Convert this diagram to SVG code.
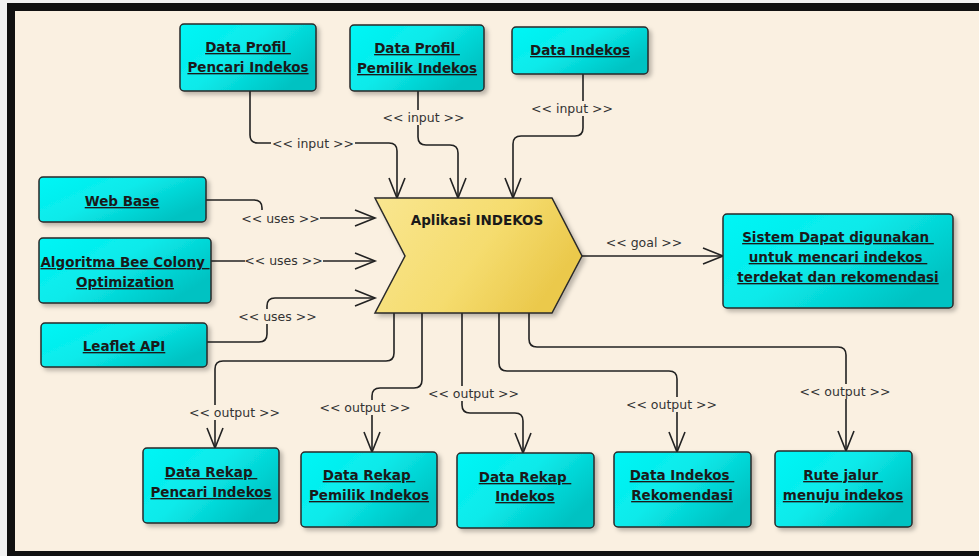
<svg xmlns="http://www.w3.org/2000/svg" width="979" height="556" viewBox="0 0 979 556">
<style>
.node rect.box{fill:url(#cyan);stroke:#2a2a2a;stroke-width:1.5;filter:url(#sh)}
.nt{font-family:"DejaVu Sans",Verdana,sans-serif;font-weight:bold;font-size:13.5px;fill:#1a1a1a;text-anchor:middle;text-decoration:underline;white-space:pre}
.lbl{font-family:"DejaVu Sans",Verdana,sans-serif;font-size:12.5px;fill:#333;text-anchor:middle;white-space:pre}
.lb{fill:#FAF0E1}
.con path{fill:none;stroke:#222;stroke-width:1.6;marker-end:url(#arr)}
</style>
<defs>
<linearGradient id="cyan" x1="0" y1="0" x2="1" y2="0.6">
<stop offset="0" stop-color="#00F6F6"/>
<stop offset="0.5" stop-color="#0AEAEA"/>
<stop offset="1" stop-color="#00C2C2"/>
</linearGradient>
<linearGradient id="yel" x1="0" y1="0" x2="1" y2="0.4">
<stop offset="0" stop-color="#F9E690"/>
<stop offset="0.6" stop-color="#F5DC6E"/>
<stop offset="1" stop-color="#EBC94C"/>
</linearGradient>
<filter id="sh" x="-10%" y="-10%" width="130%" height="130%">
<feDropShadow dx="3" dy="3" stdDeviation="2" flood-color="#000" flood-opacity="0.25"/>
</filter>
<marker id="arr" markerUnits="userSpaceOnUse" viewBox="-22 -10 24 20" refX="0" refY="0" markerWidth="24" markerHeight="20" orient="auto" overflow="visible">
<path d="M-20,-8 L0,0 L-20,8" fill="none" stroke="#222" stroke-width="1.6"/>
</marker>
</defs>
<rect x="0" y="0" width="979" height="556" fill="#F2F2F2"/>
<rect x="7" y="3" width="980" height="560" fill="#111"/>
<rect x="15" y="11" width="970" height="540" fill="#FAF0E1"/>

<g class="con">
<path d="M250,91 V135 Q250,143 258,143 H389 Q397,143 397,151 V198"/>
<path d="M418,91 V137 Q418,145 426,145 H450 Q458,145 458,153 V198"/>
<path d="M583,74 V128 Q583,136 575,136 H521 Q513,136 513,144 V198"/>
<path d="M206,200 H254 Q262,200 262,208 V218 H375"/>
<path d="M211,261 H375"/>
<path d="M207,342 H259 Q267,342 267,334 V306 Q267,298 275,298 H375"/>
<path d="M582,256 H723"/>
<path d="M394,313 V353 Q394,361 386,361 H223 Q215,361 215,369 V448"/>
<path d="M422,313 V380 Q422,388 414,388 H380 Q372,388 372,396 V452"/>
<path d="M462,313 V405 Q462,413 470,413 H515 Q523,413 523,421 V453"/>
<path d="M499,313 V363 Q499,371 507,371 H669 Q677,371 677,379 V452"/>
<path d="M529,313 V339 Q529,347 537,347 H838 Q846,347 846,355 V451"/>
</g>

<g id="labels">
<rect class="lb" x="271" y="136" width="84" height="15"/><text class="lbl" x="313" y="147.5">&lt;&lt; input &gt;&gt;</text>
<rect class="lb" x="381" y="110" width="85" height="15"/><text class="lbl" x="423.5" y="121.5">&lt;&lt; input &gt;&gt;</text>
<rect class="lb" x="530" y="101" width="84" height="15"/><text class="lbl" x="572" y="112.5">&lt;&lt; input &gt;&gt;</text>
<rect class="lb" x="242" y="210" width="78" height="16"/><text class="lbl" x="280.5" y="222.5">&lt;&lt; uses &gt;&gt;</text>
<rect class="lb" x="245" y="253" width="78" height="15"/><text class="lbl" x="283.5" y="264.5">&lt;&lt; uses &gt;&gt;</text>
<rect class="lb" x="239" y="309" width="78" height="15"/><text class="lbl" x="277.5" y="320.5">&lt;&lt; uses &gt;&gt;</text>
<text class="lbl" x="644" y="246.5">&lt;&lt; goal &gt;&gt;</text>
<rect class="lb" x="188" y="405" width="94" height="15"/><text class="lbl" x="234.5" y="416.5">&lt;&lt; output &gt;&gt;</text>
<rect class="lb" x="318" y="400" width="94" height="15"/><text class="lbl" x="365" y="411.5">&lt;&lt; output &gt;&gt;</text>
<rect class="lb" x="427" y="386" width="94" height="15"/><text class="lbl" x="473.5" y="397.5">&lt;&lt; output &gt;&gt;</text>
<rect class="lb" x="625" y="397" width="94" height="15"/><text class="lbl" x="671.5" y="408.5">&lt;&lt; output &gt;&gt;</text>
<rect class="lb" x="798" y="384" width="94" height="15"/><text class="lbl" x="845" y="395.5">&lt;&lt; output &gt;&gt;</text>
</g>

<g id="aplikasi" class="node">
<polygon points="375,198 552,198 582,256 552,313 375,313 405,256" fill="url(#yel)" stroke="#2a2a2a" stroke-width="1.5" filter="url(#sh)"/>
<text x="477" y="225" style="font-family:'DejaVu Sans',Verdana,sans-serif;font-weight:bold;font-size:13.5px;fill:#1a1a1a;text-anchor:middle">Aplikasi INDEKOS</text>
</g>

<g id="profil-pencari" class="node">
<rect class="box" x="180" y="24" width="136" height="67" rx="4"/>
<text class="nt" x="248" y="52">Data Profil </text>
<text class="nt" x="248" y="72">Pencari Indekos</text>
</g>
<g id="profil-pemilik" class="node">
<rect class="box" x="350" y="25" width="134" height="66" rx="4"/>
<text class="nt" x="417" y="53">Data Profil </text>
<text class="nt" x="417" y="73">Pemilik Indekos</text>
</g>
<g id="data-indekos" class="node">
<rect class="box" x="512" y="27" width="136" height="47" rx="4"/>
<text class="nt" x="580" y="55">Data Indekos</text>
</g>
<g id="web-base" class="node">
<rect class="box" x="39" y="177" width="167" height="45" rx="4"/>
<text class="nt" x="122" y="206">Web Base</text>
</g>
<g id="bee-colony" class="node">
<rect class="box" x="39" y="238" width="172" height="65" rx="4"/>
<text class="nt" x="125" y="267">Algoritma Bee Colony </text>
<text class="nt" x="125" y="287">Optimization</text>
</g>
<g id="leaflet" class="node">
<rect class="box" x="41" y="323" width="166" height="44" rx="4"/>
<text class="nt" x="124" y="351">Leaflet API</text>
</g>
<g id="goal" class="node">
<rect class="box" x="723" y="214" width="230" height="94" rx="4"/>
<text class="nt" x="838" y="242">Sistem Dapat digunakan </text>
<text class="nt" x="838" y="262">untuk mencari indekos </text>
<text class="nt" x="838" y="282">terdekat dan rekomendasi</text>
</g>
<g id="rekap-pencari" class="node">
<rect class="box" x="143" y="448" width="136" height="75" rx="4"/>
<text class="nt" x="211" y="477">Data Rekap </text>
<text class="nt" x="211" y="497">Pencari Indekos</text>
</g>
<g id="rekap-pemilik" class="node">
<rect class="box" x="301" y="452" width="136" height="75" rx="4"/>
<text class="nt" x="369" y="480">Data Rekap </text>
<text class="nt" x="369" y="500">Pemilik Indekos</text>
</g>
<g id="rekap-indekos" class="node">
<rect class="box" x="457" y="453" width="137" height="75" rx="4"/>
<text class="nt" x="525" y="482">Data Rekap </text>
<text class="nt" x="525" y="501">Indekos</text>
</g>
<g id="indekos-rekomendasi" class="node">
<rect class="box" x="614" y="452" width="137" height="75" rx="4"/>
<text class="nt" x="682" y="480">Data Indekos </text>
<text class="nt" x="682" y="500">Rekomendasi</text>
</g>
<g id="rute" class="node">
<rect class="box" x="775" y="451" width="137" height="76" rx="4"/>
<text class="nt" x="843" y="480">Rute jalur </text>
<text class="nt" x="843" y="500">menuju indekos</text>
</g>
</svg>
